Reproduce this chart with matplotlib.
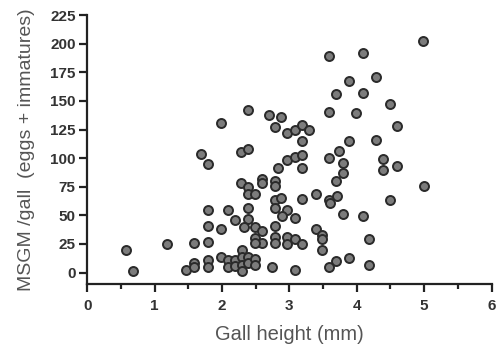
import matplotlib
matplotlib.use("Agg")
import matplotlib.pyplot as plt
from matplotlib.ticker import MultipleLocator

gall_height = [
    0.58, 0.68, 1.19, 1.47, 1.59, 1.59, 1.59, 1.69, 1.79, 1.79, 1.79, 1.79, 1.79, 1.79,
    1.99, 1.99, 1.99, 2.09, 2.09, 2.09, 2.19, 2.19, 2.19, 2.28, 2.39, 2.29, 2.29, 2.29,
    2.29, 2.39, 2.39, 2.49, 2.49, 2.74, 2.39, 2.69, 2.88, 2.78, 2.97, 2.83, 2.96, 2.28,
    2.39, 2.39, 2.49, 2.59, 2.59, 2.78, 2.78, 2.78, 2.88, 2.78, 2.96, 2.89, 2.39, 2.39,
    2.32, 2.49, 2.59, 2.49, 2.78, 2.78, 2.96, 2.59, 2.49, 2.78, 2.96,
    3.59, 4.09, 4.99, 3.89, 4.29, 3.69, 4.09, 4.50, 3.59, 3.99, 4.59, 3.08, 3.19, 3.29,
    3.19, 3.89, 4.29, 3.74, 3.08, 3.19, 3.19, 3.59, 3.79, 3.79, 3.69, 4.39, 4.39, 4.59,
    5.00, 4.50, 3.39, 3.19, 3.58, 3.60, 3.70, 3.08, 3.79, 4.09, 3.39, 3.49, 3.49, 3.08,
    3.19, 3.49, 4.18, 3.69, 3.59, 3.89, 4.18, 3.08,
]
msgm_per_gall = [
    20, 1, 25, 2, 8, 5, 26, 104, 95, 55, 41, 27, 11, 5,
    131, 38, 14, 55, 11, 5, 46, 11, 6, 105, 108, 20, 14, 7,
    1.5, 14, 8, 12, 7, 5, 142, 138, 136, 127, 122, 91, 98, 78,
    75, 69, 69, 82, 78, 80, 76, 63, 65, 56, 55, 49, 56, 47,
    40, 40, 36, 30, 41, 31, 31, 26, 26, 26, 25,
    189, 192, 202, 167, 171, 156, 157, 147, 140, 139, 128, 125, 129, 125,
    115, 115, 116, 106, 101, 103, 91, 100, 96, 87, 80, 99, 90, 93,
    76, 63, 69, 64, 63, 61, 67, 48, 51, 49, 38, 33, 29, 29,
    25, 20, 29, 10, 5, 13, 6.5, 2.4,
]

x_ticks = [0, 1, 2, 3, 4, 5, 6]
y_ticks = [0, 25, 50, 75, 100, 125, 150, 175, 200, 225]

fig = plt.figure(figsize=(4.97, 3.51), dpi=100)
ax = fig.add_axes([0.1757, 0.191, 0.8133, 0.766])

ax.scatter(gall_height, msgm_per_gall, s=42, facecolor="#7c7c7c",
           edgecolor="#2a2a2a", linewidths=1.4, zorder=3, clip_on=False)

ax.set_xlim(0, 6)
ax.set_ylim(-10, 225)
ax.set_xticks(x_ticks)
ax.set_yticks(y_ticks)
ax.xaxis.set_minor_locator(MultipleLocator(0.5))

for s in ["top", "right"]:
    ax.spines[s].set_visible(False)
for s in ["left", "bottom"]:
    ax.spines[s].set_linewidth(1.6)
    ax.spines[s].set_color("#222222")

ax.tick_params(axis="both", which="major", length=5.5, width=1.6, color="#222222",
               labelsize=11, labelcolor="#333333")
ax.tick_params(axis="x", which="major", pad=5)
ax.tick_params(axis="y", which="major", pad=3)
ax.tick_params(axis="x", which="minor", length=3.5, width=1.6, color="#222222")
for lab in ax.get_xticklabels() + ax.get_yticklabels():
    lab.set_fontweight("bold")
    lab.set_family("Liberation Sans")

ax.set_xlabel("Gall height (mm)", fontsize=14.5, color="#555555",
              family="Liberation Sans", labelpad=9)
ax.set_ylabel("MSGM /gall  (eggs + immatures)", fontsize=14, color="#555555",
              family="Liberation Sans", labelpad=11)

fig.savefig("out.png", dpi=100)
